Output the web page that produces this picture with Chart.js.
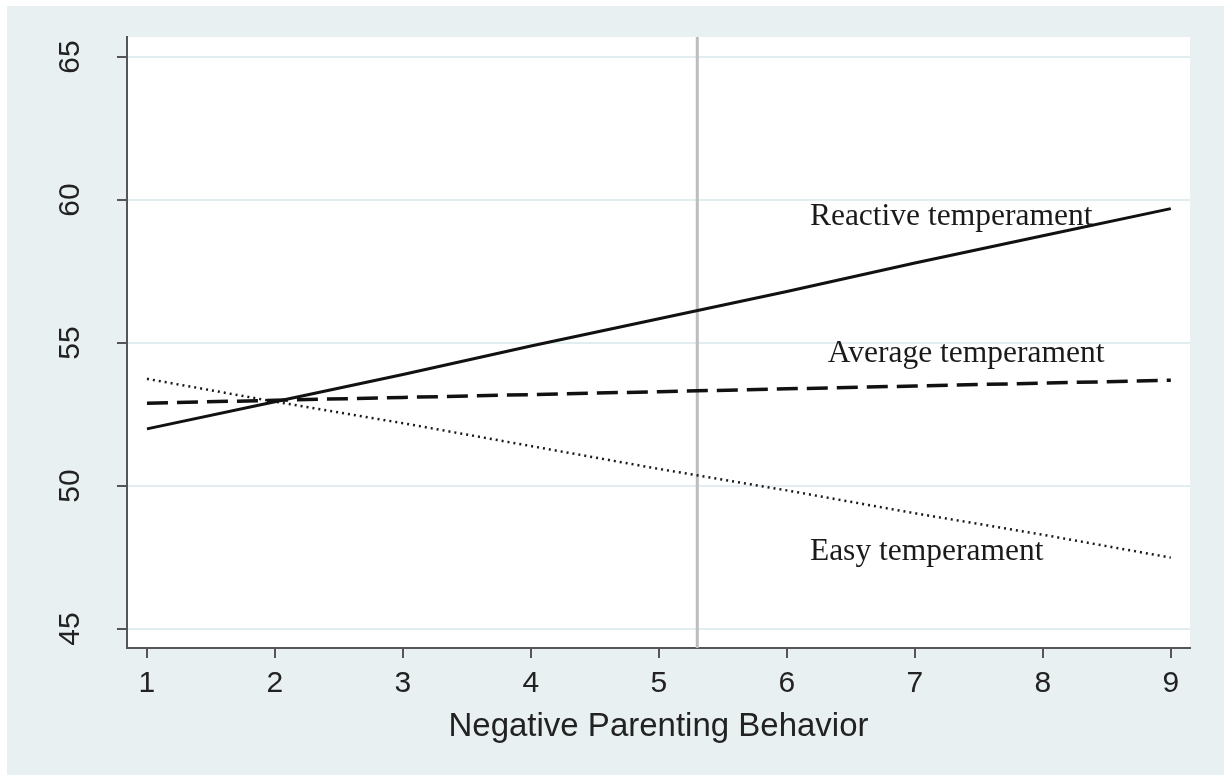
<!DOCTYPE html>
<html>
<head>
<meta charset="utf-8">
<script src="https://cdn.jsdelivr.net/npm/chart.js@4.4.1/dist/chart.umd.min.js"></script>
<style>
  html, body { margin: 0; padding: 0; background: #ffffff; }
  #wrap { width: 1224px; height: 775px; position: relative; }
</style>
</head>
<body>
<div id="wrap"><canvas id="chart" width="1224" height="775"></canvas></div>
<script>
// values
const xValues = [1, 2, 3, 4, 5, 6, 7, 8, 9];
const reactive = [52.0, 52.95, 53.9, 54.9, 55.85, 56.8, 57.8, 58.75, 59.7];
const average = [52.9, 53.0, 53.1, 53.2, 53.3, 53.4, 53.5, 53.6, 53.7];
const easy = [53.75, 52.95, 52.2, 51.4, 50.6, 49.85, 49.05, 48.3, 47.5];
const xTicks = [1, 2, 3, 4, 5, 6, 7, 8, 9];
const yTicks = [45, 50, 55, 60, 65];
const refLineX = 5.3;
const seriesNames = ['Reactive temperament', 'Average temperament', 'Easy temperament'];

const X_MIN = 0.844, X_MAX = 9.15, Y_MIN = 44.34, Y_MAX = 65.7;

const toPoints = arr => arr.map((v, i) => ({ x: xValues[i], y: v }));

// background panel + white plot area
const bgPlugin = {
  id: 'bg',
  beforeDraw(chart) {
    const { ctx, chartArea: a } = chart;
    ctx.save();
    ctx.fillStyle = '#ffffff';
    ctx.fillRect(0, 0, chart.width, chart.height);
    ctx.fillStyle = '#e8f0f2';
    ctx.fillRect(7, 6, chart.width - 7, chart.height - 6);
    ctx.fillStyle = '#ffffff';
    ctx.fillRect(a.left, a.top, a.right - a.left, a.bottom - a.top);
    ctx.restore();
  }
};

// text labels placed next to each line (data coordinates)
const labelPos = [
  { text: seriesNames[0], x: 6.18, y: 59.13 },
  { text: seriesNames[1], x: 6.32, y: 54.34 },
  { text: seriesNames[2], x: 6.18, y: 47.41 }
];
const labelPlugin = {
  id: 'lineLabels',
  afterDatasetsDraw(chart) {
    const { ctx, scales } = chart;
    ctx.save();
    ctx.font = '31.5px "Liberation Serif", "Times New Roman", serif';
    ctx.fillStyle = '#1a1a1a';
    ctx.textAlign = 'left';
    ctx.textBaseline = 'alphabetic';
    labelPos.forEach(l => {
      ctx.fillText(l.text, scales.x.getPixelForValue(l.x), scales.y.getPixelForValue(l.y));
    });
    ctx.restore();
  }
};

const sans = '"Liberation Sans", Arial, sans-serif';

const ctx = document.getElementById('chart').getContext('2d');
new Chart(ctx, {
  type: 'line',
  data: {
    datasets: [
      {
        label: seriesNames[0],
        data: toPoints(reactive),
        borderColor: '#111111',
        borderWidth: 3,
        pointRadius: 0,
        order: 1
      },
      {
        label: seriesNames[1],
        data: toPoints(average),
        borderColor: '#111111',
        borderWidth: 3.5,
        borderDash: [21, 9],
        pointRadius: 0,
        order: 1
      },
      {
        label: seriesNames[2],
        data: toPoints(easy),
        borderColor: '#1a1a1a',
        borderWidth: 2.5,
        borderDash: [2, 4],
        pointRadius: 0,
        order: 1
      },
      {
        label: 'ref',
        data: [{ x: refLineX, y: Y_MIN }, { x: refLineX, y: Y_MAX }],
        borderColor: '#bdbdbd',
        borderWidth: 3,
        pointRadius: 0,
        order: 10
      }
    ]
  },
  options: {
    responsive: false,
    animation: false,
    layout: { padding: { left: 7, top: 37, right: 34, bottom: 0 } },
    plugins: {
      legend: { display: false },
      tooltip: { enabled: false }
    },
    scales: {
      x: {
        type: 'linear',
        min: X_MIN,
        max: X_MAX,
        afterBuildTicks: s => { s.ticks = xTicks.map(v => ({ value: v })); },
        afterFit: s => { s.height = 127; s.paddingLeft = 0; s.paddingRight = 0; },
        grid: { drawOnChartArea: false, drawTicks: true, tickLength: 10, tickColor: '#555555', lineWidth: 2 },
        border: { display: true, color: '#555555', width: 2 },
        ticks: {
          color: '#222222',
          padding: 8,
          font: { family: sans, size: 30 }
        },
        title: {
          display: true,
          text: 'Negative Parenting Behavior',
          color: '#222222',
          font: { family: sans, size: 33 },
          padding: { top: 0, bottom: 28 }
        }
      },
      y: {
        type: 'linear',
        min: Y_MIN,
        max: Y_MAX,
        afterBuildTicks: s => { s.ticks = yTicks.map(v => ({ value: v })); },
        afterFit: s => { s.width = 120; s.paddingTop = 0; s.paddingBottom = 0; },
        grid: { color: '#e2edf0', lineWidth: 2, drawTicks: true, tickLength: 10, tickColor: '#555555' },
        border: { display: true, color: '#555555', width: 2 },
        ticks: {
          color: '#222222',
          minRotation: 90,
          maxRotation: 90,
          crossAlign: 'center',
          padding: 30,
          font: { family: sans, size: 30 }
        }
      }
    }
  },
  plugins: [bgPlugin, labelPlugin]
});
</script>
</body>
</html>
